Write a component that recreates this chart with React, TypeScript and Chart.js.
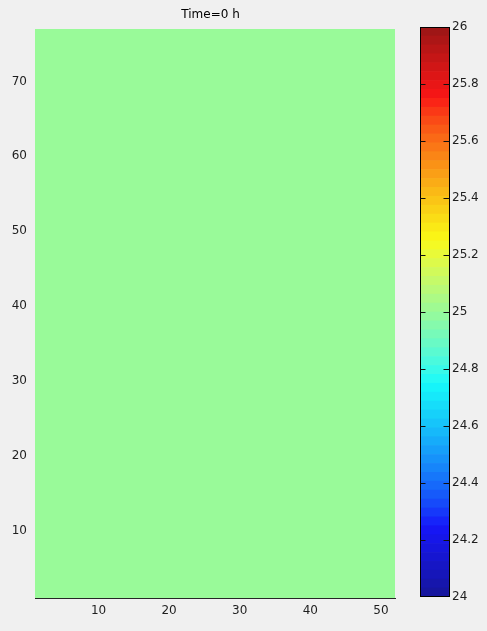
import React, { useEffect, useRef } from "react";
import { Chart, registerables } from "chart.js";

Chart.register(...registerables);

// ---- data ----
const titleText = "Time=0 h";
const xEdges = [1, 52]; // grid extent (columns)
const yEdges = [1, 77]; // grid extent (rows)
const fieldValues = [[25]]; // uniform temperature field at t = 0 h
const xTicks = [10, 20, 30, 40, 50];
const yTicks = [10, 20, 30, 40, 50, 60, 70];
const colorbarMin = 24;
const colorbarMax = 26;
const colorLevels = 64;
const colorbarTicks = [24, 24.2, 24.4, 24.6, 24.8, 25, 25.2, 25.4, 25.6, 25.8, 26];
const colorbarTickLabels = ["24", "24.2", "24.4", "24.6", "24.8", "25", "25.2", "25.4", "25.6", "25.8", "26"];

const FONT = "'DejaVu Sans', sans-serif";
const TEXT = "#1e1e1e";

function jet(t: number): string {
  const c = (v: number) => Math.max(0, Math.min(1, v));
  const r = c(1.5 - Math.abs(4 * t - 3));
  const g = c(1.5 - Math.abs(4 * t - 2));
  const b = c(1.5 - Math.abs(4 * t - 1));
  const f = (v: number) => Math.round(22 + Math.pow(v, 0.8) * 228);
  return `rgb(${f(r)},${f(g)},${f(b)})`;
}

function valueColor(v: number): string {
  return jet((v - colorbarMin) / (colorbarMax - colorbarMin));
}

export default function App() {
  const mainRef = useRef<HTMLCanvasElement>(null);
  const cbRef = useRef<HTMLCanvasElement>(null);

  useEffect(() => {
    const fieldPlugin = {
      id: "field",
      beforeDatasetsDraw(chart: any) {
        const { ctx, scales } = chart;
        const xs = scales.x;
        const ys = scales.y;
        const nRows = fieldValues.length;
        const nCols = fieldValues[0].length;
        const dx = (xEdges[1] - xEdges[0]) / nCols;
        const dy = (yEdges[1] - yEdges[0]) / nRows;
        ctx.save();
        for (let r = 0; r < nRows; r++) {
          for (let c = 0; c < nCols; c++) {
            const x0 = xs.getPixelForValue(xEdges[0] + c * dx);
            const x1 = xs.getPixelForValue(xEdges[0] + (c + 1) * dx);
            const y0 = ys.getPixelForValue(yEdges[0] + r * dy);
            const y1 = ys.getPixelForValue(yEdges[0] + (r + 1) * dy);
            ctx.fillStyle = valueColor(fieldValues[r][c]);
            ctx.fillRect(x0, y1, x1 - x0, y0 - y1);
          }
        }
        ctx.restore();
      },
      afterDraw(chart: any) {
        const { ctx } = chart;
        ctx.save();
        ctx.font = `12px ${FONT}`;
        ctx.fillStyle = "#000";
        ctx.textAlign = "center";
        ctx.textBaseline = "middle";
        ctx.fillText(titleText, 210.5, 15);
        ctx.restore();
      },
    };

    const main = new Chart(mainRef.current!, {
      type: "scatter",
      data: { datasets: [] },
      options: {
        animation: false,
        responsive: false,
        maintainAspectRatio: false,
        layout: { padding: { left: 0, right: 15, top: 29, bottom: 0 } },
        plugins: { legend: { display: false }, tooltip: { enabled: false }, title: { display: false } },
        scales: {
          x: {
            type: "linear",
            min: xEdges[0],
            max: xEdges[1],
            afterBuildTicks: (s: any) => {
              s.ticks = xTicks.map((v) => ({ value: v }));
            },
            afterFit: (s: any) => {
              s.height = 33;
            },
            grid: { display: false, drawTicks: false },
            border: { display: true, color: "#262626", width: 1 },
            ticks: { color: TEXT, font: { family: FONT, size: 12 }, padding: 6, maxRotation: 0, autoSkip: false },
          },
          y: {
            type: "linear",
            min: yEdges[0],
            max: yEdges[1],
            afterBuildTicks: (s: any) => {
              s.ticks = yTicks.map((v) => ({ value: v }));
            },
            afterFit: (s: any) => {
              s.width = 35;
            },
            grid: { display: false, drawTicks: false },
            border: { display: false },
            ticks: { color: TEXT, font: { family: FONT, size: 12 }, padding: 8, autoSkip: false },
          },
        },
      },
      plugins: [fieldPlugin],
    } as any);

    const levels = Array.from({ length: colorLevels }, (_, i) => i);
    const step = (colorbarMax - colorbarMin) / colorLevels;

    const cbPlugin = {
      id: "cbFrame",
      afterDatasetsDraw(chart: any) {
        const { ctx, chartArea, scales } = chart;
        const ys = scales.y;
        ctx.save();
        ctx.strokeStyle = "#000";
        ctx.lineWidth = 1;
        const l = Math.round(chartArea.left) + 0.5;
        const r = Math.round(chartArea.right) - 0.5;
        const t = Math.round(chartArea.top) + 0.5;
        const b = Math.round(chartArea.bottom) - 0.5;
        ctx.strokeRect(l, t, r - l, b - t);
        ctx.strokeStyle = "#111";
        for (const v of colorbarTicks) {
          if (v === colorbarMin || v === colorbarMax) continue;
          const y = Math.round(ys.getPixelForValue(v)) + 0.5;
          ctx.beginPath();
          ctx.moveTo(l, y);
          ctx.lineTo(l + 5, y);
          ctx.moveTo(r, y);
          ctx.lineTo(r - 6, y);
          ctx.stroke();
        }
        ctx.restore();
      },
    };

    const cb = new Chart(cbRef.current!, {
      type: "bar",
      data: {
        labels: ["cb"],
        datasets: levels.map((i) => ({
          data: [[colorbarMin + i * step, colorbarMin + (i + 1) * step]],
          backgroundColor: jet((i + 0.5) / colorLevels),
          borderWidth: 0,
          grouped: false,
          barPercentage: 1,
          categoryPercentage: 1,
        })),
      },
      options: {
        animation: false,
        responsive: false,
        maintainAspectRatio: false,
        layout: { padding: { left: 20, right: 0, top: 27, bottom: 34 } },
        plugins: { legend: { display: false }, tooltip: { enabled: false } },
        scales: {
          x: { type: "category", display: false },
          y: {
            type: "linear",
            position: "right",
            min: colorbarMin,
            max: colorbarMax,
            afterBuildTicks: (s: any) => {
              s.ticks = colorbarTicks.map((v) => ({ value: v }));
            },
            afterFit: (s: any) => {
              s.width = 37;
            },
            grid: { display: false, drawTicks: false },
            border: { display: false },
            ticks: {
              color: TEXT,
              font: { family: FONT, size: 12 },
              padding: 2,
              autoSkip: false,
              callback: (_v: any, idx: number) => colorbarTickLabels[idx],
            },
          },
        },
      },
      plugins: [cbPlugin],
    } as any);

    return () => {
      main.destroy();
      cb.destroy();
    };
  }, []);

  return (
    <div style={{ position: "fixed", left: 0, top: 0, width: 487, height: 631, background: "#f0f0f0", overflow: "hidden" }}>
      <canvas ref={mainRef} width={410} height={631} style={{ position: "absolute", left: 0, top: 0, width: 410, height: 631 }} />
      <canvas ref={cbRef} width={87} height={631} style={{ position: "absolute", left: 400, top: 0, width: 87, height: 631 }} />
    </div>
  );
}
